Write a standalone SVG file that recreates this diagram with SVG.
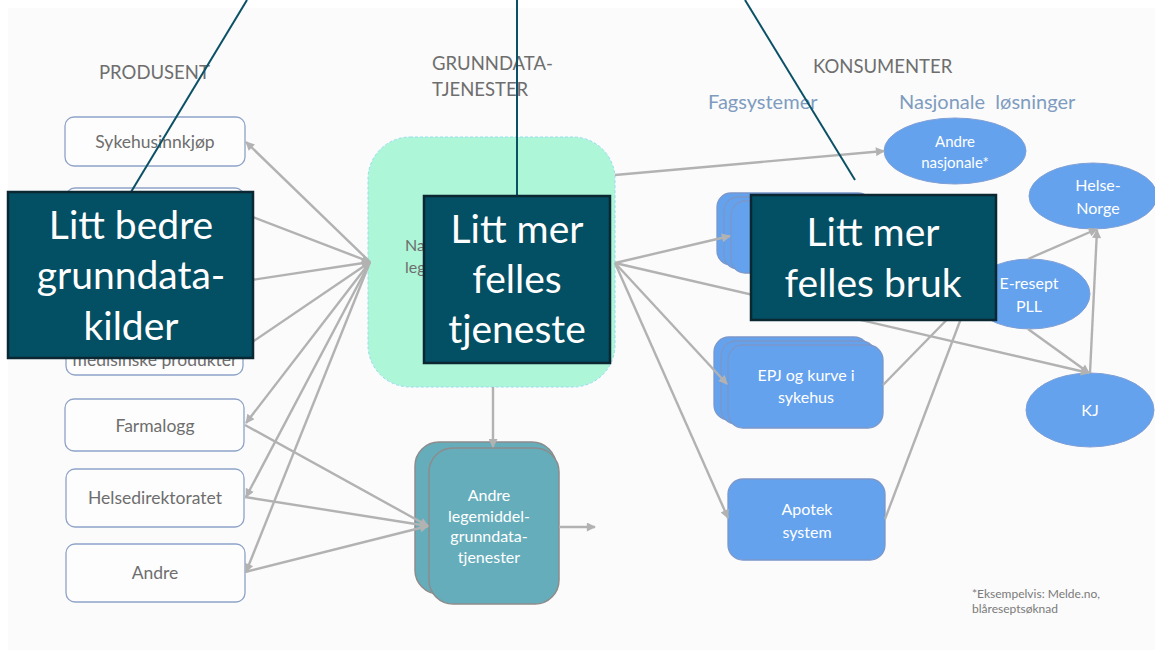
<svg xmlns="http://www.w3.org/2000/svg" width="1155" height="658" viewBox="0 0 1155 658">
<style>
.hdr{font-family:Lato,"Open Sans","DejaVu Sans",sans-serif;font-size:18.5px;fill:#6e6e6e}
.sub{font-family:Lato,"Open Sans","DejaVu Sans",sans-serif;font-size:20px;fill:#7f9cc0}
.lbl{font-family:Lato,"Open Sans","DejaVu Sans",sans-serif;font-size:17.5px;fill:#6e6e6e;text-anchor:middle}
.wl{font-family:Lato,"Open Sans","DejaVu Sans",sans-serif;font-size:16px;fill:#ffffff;text-anchor:middle}
.big{font-family:Lato,"Open Sans","DejaVu Sans",sans-serif;font-size:39px;fill:#ffffff;text-anchor:middle}
.note{font-family:Lato,"Open Sans","DejaVu Sans",sans-serif;font-size:12px;fill:#7a7a7a}
.pbox{fill:#fdfdfd;stroke:#8ea3c7;stroke-width:1.3}
.bbox{fill:#64a2ee;stroke:#7b97c9;stroke-width:1.3}
.ell{fill:#64a2ee;stroke:#7f9fd6;stroke-width:1}
.tbox{fill:#66adbb;stroke:#8c8c8c;stroke-width:1.5}
.con{stroke:#b2b2b2;stroke-width:2.4;fill:none}
.arr{marker-end:url(#ah)}
.call{fill:#034f64;stroke:#0b2731;stroke-width:2.5}
.lead{stroke:#0b5166;stroke-width:2;fill:none}
</style>
<defs>
<marker id="ah" viewBox="0 0 10 10" refX="9" refY="5" markerWidth="11" markerHeight="9" markerUnits="userSpaceOnUse" orient="auto">
<path d="M0,0 L10,5 L0,10 z" fill="#b2b2b2"/>
</marker>
</defs>
<rect x="0" y="0" width="1155" height="658" fill="#ffffff"/>
<rect x="8" y="8" width="1147" height="642" fill="#fbfbfb"/>

<g id="headers">
<text class="hdr" x="99" y="79">PRODUSENT</text>
<text class="hdr" x="432" y="70">GRUNNDATA-</text>
<text class="hdr" x="432" y="96">TJENESTER</text>
<text class="hdr" x="813" y="73">KONSUMENTER</text>
<text class="sub" x="708" y="109">Fagsystemer</text>
<text class="sub" x="899" y="109" xml:space="preserve">Nasjonale  løsninger</text>
</g>

<g id="n-sykehusinnkjop"><rect class="pbox" x="65" y="117" width="180" height="49" rx="9"/><text class="lbl" x="155" y="148">Sykehusinnkjøp</text></g>
<g id="n-kilde2"><rect class="pbox" x="66" y="188" width="178" height="50" rx="9"/></g>
<g id="n-kilde4"><rect class="pbox" x="66" y="320" width="177" height="55" rx="9"/><text class="lbl" x="155" y="366">medisinske produkter</text></g>
<g id="n-farmalogg"><rect class="pbox" x="65" y="399" width="179" height="52" rx="9"/><text class="lbl" x="155" y="432">Farmalogg</text></g>
<g id="n-helsedir"><rect class="pbox" x="66" y="469" width="178" height="58" rx="9"/><text class="lbl" x="155" y="504">Helsedirektoratet</text></g>
<g id="n-andre"><rect class="pbox" x="66" y="544" width="179" height="58" rx="9"/><text class="lbl" x="155" y="579">Andre</text></g>

<g id="n-nasjonal"><rect x="368" y="137" width="247" height="250" rx="42" fill="#adf6d8" stroke="#96dcef" stroke-width="1" stroke-dasharray="3 2"/>
<text class="hdr" style="font-size:16px" x="405" y="251">Na</text>
<text class="hdr" style="font-size:16px" x="405" y="273">leg</text></g>

<g id="n-andre-lm">
<rect class="tbox" x="415" y="442" width="141" height="152" rx="24"/>
<rect class="tbox" x="429" y="448" width="130" height="156" rx="24"/>
<text class="wl" x="489" y="501">Andre</text>
<text class="wl" x="489" y="522">legemiddel-</text>
<text class="wl" x="489" y="542">grunndata-</text>
<text class="wl" x="489" y="563">tjenester</text>
</g>

<g id="n-fagsys1">
<rect class="bbox" x="717" y="193" width="155" height="72" rx="14"/>
<rect class="bbox" x="724" y="197" width="155" height="72" rx="14"/>
<rect class="bbox" x="731" y="201" width="155" height="72" rx="14"/>
</g>
<g id="n-epj">
<rect class="bbox" x="714" y="337" width="155" height="83" rx="15"/>
<rect class="bbox" x="721" y="341" width="155" height="83" rx="15"/>
<rect class="bbox" x="728" y="345" width="155" height="83" rx="15"/>
<text class="wl" x="806" y="381">EPJ og kurve i</text>
<text class="wl" x="806" y="403">sykehus</text>
</g>
<g id="n-apotek"><rect class="bbox" x="728" y="479" width="157" height="81" rx="15"/>
<text class="wl" x="807" y="515">Apotek</text><text class="wl" x="807" y="538">system</text></g>

<g id="n-andre-nasj"><ellipse class="ell" cx="955" cy="151" rx="71" ry="33"/>
<text class="wl" style="font-size:15px" x="955" y="147">Andre</text><text class="wl" style="font-size:15px" x="955" y="168">nasjonale*</text></g>
<g id="n-helsenorge"><ellipse class="ell" cx="1093" cy="196" rx="64" ry="33"/>
<text class="wl" x="1098" y="191">Helse-</text><text class="wl" x="1098" y="214">Norge</text></g>
<g id="n-eresept"><ellipse class="ell" cx="1030" cy="294" rx="60" ry="35"/>
<text class="wl" x="1029" y="289">E-resept</text><text class="wl" x="1029" y="312">PLL</text></g>
<g id="n-kj"><ellipse class="ell" cx="1090" cy="410" rx="64" ry="37"/>
<text class="wl" x="1090" y="416">KJ</text></g>

<g id="connectors">
<line class="con arr" x1="370" y1="262" x2="246" y2="142"/>
<line class="con arr" x1="245" y1="214" x2="370" y2="262"/>
<line class="con arr" x1="245" y1="281" x2="370" y2="262"/>
<line class="con arr" x1="245" y1="347" x2="370" y2="262"/>
<line class="con arr" x1="370" y1="262" x2="246" y2="423"/>
<line class="con arr" x1="370" y1="262" x2="246" y2="497"/>
<line class="con arr" x1="370" y1="262" x2="246" y2="572"/>
<line class="con arr" x1="245" y1="425" x2="428" y2="526"/>
<line class="con arr" x1="245" y1="497" x2="428" y2="526"/>
<line class="con arr" x1="245" y1="572" x2="428" y2="526"/>
<line class="con arr" x1="493" y1="387" x2="493" y2="447"/>
<line class="con arr" x1="559" y1="527" x2="595" y2="527"/>
<line class="con arr" x1="615" y1="175" x2="884" y2="151"/>
<line class="con arr" x1="615" y1="263" x2="730" y2="236"/>
<line class="con arr" x1="615" y1="263" x2="1089" y2="373"/>
<line class="con arr" x1="615" y1="263" x2="727" y2="384"/>
<line class="con arr" x1="615" y1="263" x2="728" y2="518"/>
<line class="con" x1="883" y1="385" x2="968" y2="298"/>
<line class="con" x1="885" y1="519" x2="968" y2="300"/>
<line class="con arr" x1="1028" y1="259" x2="1097" y2="229"/>
<line class="con arr" x1="1028" y1="329" x2="1089" y2="373"/>
<line class="con arr" x1="1090" y1="373" x2="1097" y2="230"/>
</g>

<g id="footnote">
<text class="note" x="972" y="598">*Eksempelvis: Melde.no,</text>
<text class="note" x="972" y="613">blåreseptsøknad</text>
</g>

<g id="callout-1">
<line class="lead" x1="131" y1="192" x2="247" y2="0"/>
<rect class="call" x="8" y="192" width="245" height="166"/>
<text class="big" x="131" y="239">Litt bedre</text>
<text class="big" x="131" y="289">grunndata-</text>
<text class="big" x="131" y="340">kilder</text>
</g>
<g id="callout-2">
<line class="lead" x1="517" y1="196" x2="517" y2="0"/>
<rect class="call" x="424" y="196" width="186" height="167"/>
<text class="big" x="517" y="243">Litt mer</text>
<text class="big" x="517" y="293">felles</text>
<text class="big" x="517" y="343">tjeneste</text>
</g>
<g id="callout-3">
<line class="lead" x1="855" y1="180" x2="745" y2="0"/>
<rect class="call" x="751" y="195" width="245" height="125"/>
<text class="big" x="873" y="246">Litt mer</text>
<text class="big" x="873" y="297">felles bruk</text>
</g>
</svg>
